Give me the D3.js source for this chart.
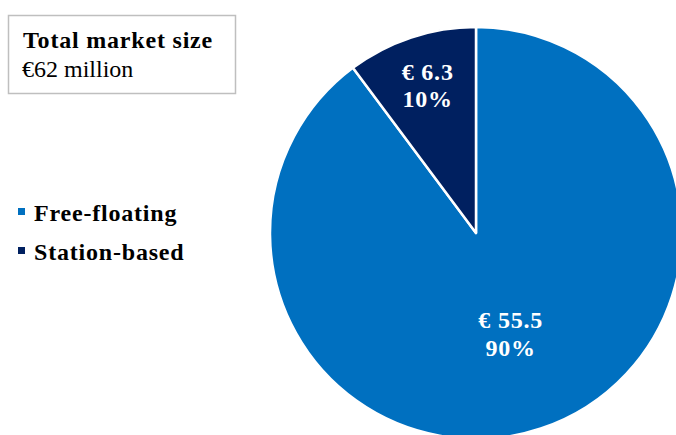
<!DOCTYPE html>
<html>
<head>
<meta charset="utf-8">
<script src="https://cdn.jsdelivr.net/npm/d3@7"></script>
<style>
  body { margin: 0; background: #fff; }
  svg { display: block; font-family: "Liberation Serif", "Times New Roman", serif; }
  svg text { font-size: 24px; letter-spacing: 0.8px; }
</style>
</head>
<body>
<svg width="676" height="435"></svg>
<script>
var segments = ["Free-floating", "Station-based"],
    values = [55.5, 6.3],
    valueLabels = ["€ 55.5", "€ 6.3"],
    pctLabels = ["90%", "10%"],
    colors = ["#0070C0", "#002060"];

var totalTitle = "Total market size",
    totalValue = "€62 million";

var svg = d3.select("svg"),
    cx = 476, cy = 233, radius = 206;

// total box
svg.append("rect")
    .attr("x", 8.5).attr("y", 15.5)
    .attr("width", 227).attr("height", 78)
    .attr("fill", "#fff")
    .attr("stroke", "#bfbfbf")
    .attr("stroke-width", 1.5);

svg.append("text")
    .attr("x", 23).attr("y", 48)
    .style("font-weight", "bold")
    .text(totalTitle);

svg.append("text")
    .attr("x", 22).attr("y", 77)
    .style("letter-spacing", "0px")
    .text(totalValue);

// pie, free-floating first, clockwise from 12 o'clock
var pie = d3.pie().sort(null).value(function(d) { return d; });
var arcs = pie(values);

var arc = d3.arc().innerRadius(0).outerRadius(radius);

var g = svg.append("g").attr("transform", "translate(" + cx + "," + cy + ")");

g.selectAll("path.slice")
    .data(arcs)
    .enter().append("path")
      .attr("class", "slice")
      .attr("d", arc)
      .attr("fill", function(d, i) { return colors[i]; })
      .attr("stroke", "#fff")
      .attr("stroke-width", 2.5)
      .attr("stroke-linejoin", "round");

// labels: the small slice sits further out than the big one
var labelR = [0.52, 0.76];
var labels = g.selectAll("g.label")
    .data(arcs)
    .enter().append("g")
      .attr("class", "label")
      .attr("transform", function(d, i) {
        var a = (d.startAngle + d.endAngle) / 2,
            r = radius * labelR[i];
        return "translate(" + (Math.sin(a) * r + 1) + "," + (-Math.cos(a) * r) + ")";
      });

labels.append("text")
    .attr("text-anchor", "middle")
    .attr("y", function(d, i) { return i ? -4 : -7; })
    .attr("fill", "#fff")
    .style("font-weight", "bold")
    .text(function(d, i) { return valueLabels[i]; });

labels.append("text")
    .attr("text-anchor", "middle")
    .attr("y", function(d, i) { return i ? 23 : 21; })
    .attr("fill", "#fff")
    .style("font-weight", "bold")
    .text(function(d, i) { return pctLabels[i]; });

// legend
var legend = svg.selectAll("g.legend")
    .data(segments)
    .enter().append("g")
      .attr("class", "legend")
      .attr("transform", function(d, i) { return "translate(18," + (221 + i * 39) + ")"; });

legend.append("rect")
    .attr("x", 0).attr("y", -13)
    .attr("width", 7).attr("height", 7)
    .attr("fill", function(d, i) { return colors[i]; });

legend.append("text")
    .attr("x", 16).attr("y", 0)
    .style("font-weight", "bold")
    .text(function(d) { return d; });
</script>
</body>
</html>
